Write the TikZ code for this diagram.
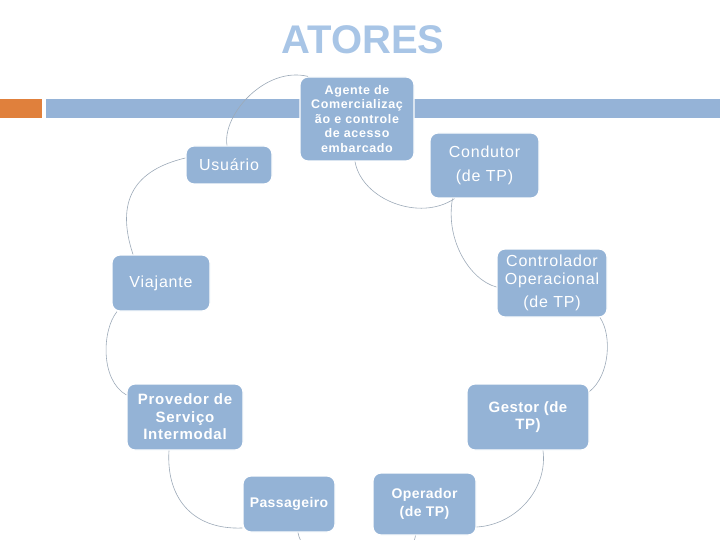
\documentclass[tikz,border=0pt]{standalone}
\usepackage{fontspec}
\setmainfont{Liberation Sans}
\newfontfamily\boxfont{Liberation Sans}[LetterSpace=5]
\newfontfamily\tightfont{Liberation Sans}[LetterSpace=3]
\usetikzlibrary{calc}
\definecolor{boxblue}{HTML}{94B3D6}
\definecolor{barblue}{HTML}{95B3D7}
\definecolor{barorange}{HTML}{E0803C}
\definecolor{titleblue}{HTML}{A8C5E6}
\definecolor{connc}{HTML}{9DAAB8}
\begin{document}
\begin{tikzpicture}[x=1pt,y=-1pt,
  box/.style={rectangle, rounded corners=8pt, fill=boxblue, draw=white, line width=1.2pt,
    text=white, align=center, inner sep=0pt, font=\boxfont\fontsize{16}{18}\selectfont},
  conn/.style={draw=connc, line width=0.6pt}]
\useasboundingbox (0,0) rectangle (720,540);
\clip (0,0) rectangle (720,540);
% title
\node[text=titleblue, font=\fontsize{40}{44}\selectfont\bfseries] (title) at (363,40) {ATORES};
% bars
\fill[barorange] (0,99) rectangle (42,118);
\fill[barblue] (46,99) rectangle (720,118);
% boxes
\node[box, minimum width=86pt, minimum height=38pt] (usu) at (229,165) {Usuário};
\node[box, minimum width=114pt, minimum height=84pt, font=\boxfont\fontsize{12.5}{14.5}\selectfont\bfseries] (age) at (357,119)
  {Agente de\\Comercializaç\\ão e controle\\de acesso\\embarcado};
\node[box, minimum width=109pt, minimum height=65pt] (con) at (484.5,165.5) {Condutor\\[6pt](de TP)};
\node[box, minimum width=110pt, minimum height=68pt] (ctl) at (552,283) {Controlador\\Operacional\\[5pt](de TP)};
\node[box, minimum width=98pt, minimum height=56pt] (via) at (161,283) {Viajante};
\node[box, minimum width=116pt, minimum height=66pt, font=\boxfont\fontsize{15}{17.5}\selectfont\bfseries] (pro) at (185,417) {Provedor de\\Serviço\\Intermodal};
\node[box, minimum width=92pt, minimum height=56pt, font=\tightfont\fontsize{14}{17}\selectfont\bfseries] (pas) at (289,504) {Passageiro};
\node[box, minimum width=103pt, minimum height=62pt, font=\tightfont\fontsize{14}{17.5}\selectfont\bfseries] (ope) at (424.5,504) {Operador\\(de TP)};
\node[box, minimum width=122pt, minimum height=66pt, font=\tightfont\fontsize{15}{17}\selectfont\bfseries] (ges) at (528,417) {Gestor (de\\TP)};
% connectors
\draw[conn] ([xshift=-28pt]via.north) .. controls (115,200) and (135,170) .. ([yshift=7pt]usu.west);
\draw[conn] ([xshift=-2pt]usu.north) .. controls (222,115) and (265,66) .. ([xshift=-49pt]age.north);
\draw[conn] ([xshift=-2pt]age.south) .. controls (362,200) and (420,222) .. ([xshift=-30pt]con.south);
\draw[conn] ([xshift=-32pt]con.south) .. controls (445,240) and (470,280) .. ([yshift=-4pt]ctl.west);
\draw[conn] ([xshift=48pt]ctl.south) .. controls (612,335) and (610,375) .. ([yshift=-8pt]ges.north east);
\draw[conn] ([xshift=15pt]ges.south) .. controls (548,490) and (515,525) .. ([yshift=-23pt]ope.east);
\draw[conn] ([xshift=-9pt]ope.south) .. controls (410,575) and (305,575) .. ([xshift=9pt]pas.south);
\draw[conn] ([yshift=-24pt]pas.west) .. controls (190,530) and (166,495) .. ([xshift=-16pt]pro.south);
\draw[conn] ([yshift=22pt]pro.west) .. controls (100,380) and (102,330) .. ([xshift=-44pt]via.south);
\end{tikzpicture}
\end{document}
